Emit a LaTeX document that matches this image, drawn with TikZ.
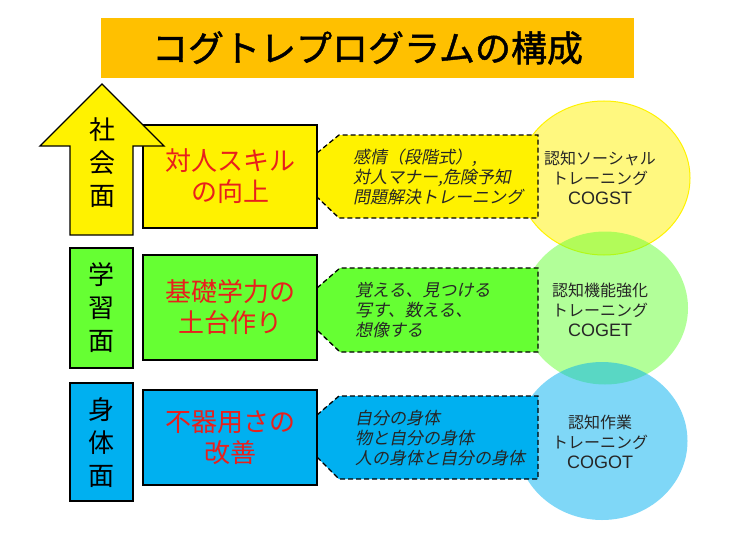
\documentclass[tikz,border=0pt]{standalone}
\usepackage{fontspec}
\setmainfont{Noto Sans CJK JP}
\newfontfamily\slantfont{Noto Sans CJK JP}[FakeSlant=0.2]
\newfontfamily\titlefont{Noto Sans CJK JP}[FakeBold=1.2]
\newfontfamily\latfont{Liberation Sans}
\usetikzlibrary{shapes.geometric}
\definecolor{titleor}{HTML}{FFC000}
\definecolor{ygreen}{HTML}{66FF33}
\definecolor{sblue}{HTML}{00B0F0}
\definecolor{lred}{RGB}{232,32,28}
\begin{document}
\begin{tikzpicture}[x=1pt,y=-1pt,
  mainbox/.style={draw=black,line width=1.6pt,minimum width=174pt,inner sep=0pt,text=lred,font=\fontsize{26}{31}\selectfont,align=center},
  sidebox/.style={draw=black,line width=1.6pt,minimum width=63pt,inner sep=0pt},
  sidetext/.style={font=\fontsize{26}{33}\selectfont,align=center,inner sep=0pt},
  callout/.style={draw=black,line width=1.3pt,dash pattern=on 5pt off 3pt},
  calltext/.style={font=\slantfont\fontsize{17}{20}\selectfont,align=left,anchor=west,inner sep=0pt,text=black!85},
  circ/.style={ellipse,inner sep=0pt,fill opacity=0.5},
  circtext/.style={font=\fontsize{16}{20}\selectfont,align=center,inner sep=0pt,text=black!85}]
\useasboundingbox (0,0) rectangle (751,532);
% title
\node[fill=titleor,minimum width=533pt,minimum height=60pt,inner sep=0pt,
      font=\titlefont\fontsize{36}{40}\selectfont] (title) at (367.5,48) {コグトレプログラムの構成};
% circles
\node[circ,fill=yellow,draw=yellow,line width=1pt,minimum width=172pt,minimum height=154pt] (cy) at (604,178) {};
\node[circ,fill=ygreen,minimum width=166pt,minimum height=153pt] (cg) at (605,308) {};
\node[circ,fill=sblue,minimum width=171pt,minimum height=158pt] (cb) at (602,441) {};
% callouts
\draw[callout,fill=yellow] (317,153) -- (339,135) -- (538,135) -- (538,218) -- (339,218) -- (317,197) -- cycle;
\draw[callout,fill=ygreen] (317,288) -- (340,268) -- (538,268) -- (538,352) -- (340,352) -- (317,330) -- cycle;
\draw[callout,fill=sblue] (317,415) -- (339,396) -- (538,396) -- (538,479) -- (339,479) -- (317,457) -- cycle;
% main boxes
\node[mainbox,fill=yellow,minimum height=103pt] (by) at (230,176.5) {対人スキル\\の向上};
\node[mainbox,fill=ygreen,minimum height=105pt] (bg) at (230,307.5) {基礎学力の\\土台作り};
\node[mainbox,fill=sblue,minimum height=95pt] (bb) at (230,437.5) {不器用さの\\改善};
% side boxes and arrow
\draw[line width=1.4pt,fill=yellow,line join=miter] (102,84) -- (164,146) -- (133,146) -- (133,235) -- (70,235) -- (70,146) -- (40,146) -- cycle;
\node[sidebox,fill=ygreen,minimum height=120pt] (sg) at (101.5,308) {};
\node[sidebox,fill=sblue,minimum height=118pt] (sb) at (101.5,442) {};
\node[sidetext] (ly) at (102,163) {社\\会\\面};
\node[sidetext] (lg) at (101.5,308) {学\\習\\面};
\node[sidetext] (lb) at (101.5,443) {身\\体\\面};
% callout texts
\node[calltext] (ty) at (353,177) {感情（段階式）,\\対人マナー,危険予知\\問題解決トレーニング};
\node[calltext] (tg) at (355,310) {覚える、見つける\\写す、数える、\\想像する};
\node[calltext] (tb) at (355,438) {自分の身体\\物と自分の身体\\人の身体と自分の身体};
% circle texts
\node[circtext] (ny) at (600,178) {認知ソーシャル\\トレーニング\\{\latfont\fontsize{18}{20}\selectfont COGST}};
\node[circtext] (ng) at (600,310) {認知機能強化\\トレーニング\\{\latfont\fontsize{18}{20}\selectfont COGET}};
\node[circtext] (nb) at (600,442) {認知作業\\トレーニング\\{\latfont\fontsize{18}{20}\selectfont COGOT}};
\end{tikzpicture}
\end{document}
